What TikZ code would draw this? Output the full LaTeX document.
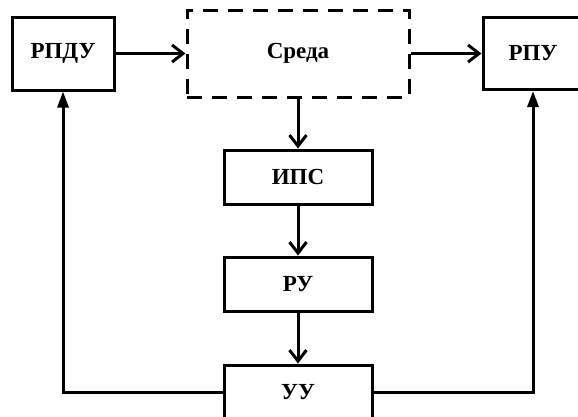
\documentclass[tikz,border=0pt]{standalone}
\usepackage{fontspec}
\setmainfont{Liberation Serif}
\usetikzlibrary{arrows.meta}
\begin{document}
\begin{tikzpicture}[x=1pt,y=-1pt,
  blk/.style={draw=black,line width=3pt,inner sep=0pt,font=\fontsize{23}{26}\selectfont\bfseries},
  dblk/.style={blk,dash pattern=on 15pt off 10pt},
  conn/.style={line width=3pt,-{Straight Barb[length=11pt,width=17pt,line width=3pt]}},
  fb/.style={line width=3pt,-{Triangle[length=16pt,width=11pt]}}]
\useasboundingbox[fill=white] (0,0) rectangle (578,416);
\node[blk,minimum width=102pt,minimum height=73pt] (rpdu) at (63,53.5) {РПДУ};
\node[dblk,minimum width=222pt,minimum height=87pt] (sreda) at (298,53.5) {Среда};
\node[blk,minimum width=100pt,minimum height=72pt] (rpu) at (533,53.5) {РПУ};
\node[blk,minimum width=148pt,minimum height=54pt] (ips) at (298,177) {ИПС};
\node[blk,minimum width=148pt,minimum height=54pt] (ru) at (298,284) {РУ};
\node[blk,minimum width=148pt,minimum height=54pt] (uu) at (298,392) {УУ};
\draw[conn] (rpdu.east) -- (sreda.west);
\draw[conn] (sreda.east) -- (rpu.west);
\draw[conn] (sreda.south) -- (ips.north);
\draw[conn] (ips.south) -- (ru.north);
\draw[conn] (ru.south) -- (uu.north);
\draw[fb] (uu.west) -| (rpdu.south);
\draw[fb] (uu.east) -| (rpu.south);
\end{tikzpicture}
\end{document}
